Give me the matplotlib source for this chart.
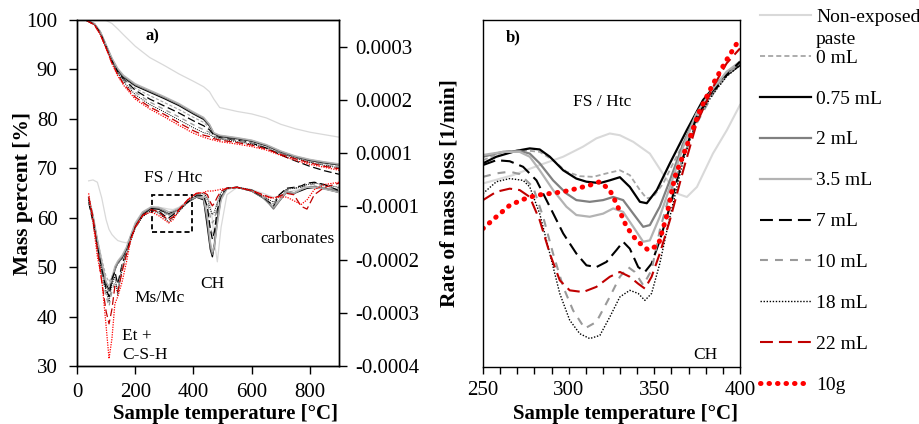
import matplotlib
matplotlib.use("Agg")
import matplotlib.pyplot as plt
from matplotlib.patches import Rectangle
from matplotlib.ticker import MultipleLocator

plt.rcParams["font.family"] = ["Liberation Serif", "DejaVu Serif"]

# ---------------- data ----------------
series = ["Non-exposed", "0 mL", "0.75 mL", "2 mL", "3.5 mL",
          "7 mL", "10 mL", "18 mL", "22 mL", "10g"]

# panel a) TGA, mass percent [%]
tga_temp = [30, 60, 80, 100, 120, 140, 160, 200, 250, 300, 350, 400, 435, 455,
            470, 490, 550, 600, 650, 700, 750, 800, 850, 900]
tga_nonexp = [100, 100, 100, 99.9, 99.3, 98.2, 97.0, 94.7, 92.4, 90.8, 89.1, 87.6,
              86.5, 85.5, 84.0, 82.3, 81.5, 81.0, 80.2, 78.9, 78.0, 77.3, 76.8, 76.3]
tga_0 = [100, 99.2, 97.5, 94.7, 91.8, 89.7, 88.2, 86.2, 84.7, 83.3, 81.9, 80.3,
         79.3, 78.2, 76.9, 76.4, 75.9, 75.4, 74.5, 73.2, 72.2, 71.4, 70.9, 70.4]
tga_075 = [100, 99.2, 97.5, 94.8, 92.0, 89.8, 88.4, 86.7, 85.4, 84.1, 82.7, 81.0,
           79.9, 78.6, 77.0, 76.5, 76.0, 75.5, 74.6, 73.3, 72.3, 71.6, 71.1, 70.7]
tga_2 = [100, 99.2, 97.6, 94.9, 92.2, 90.0, 88.6, 86.9, 85.6, 84.3, 82.9, 81.2,
         80.1, 78.8, 77.1, 76.6, 76.1, 75.6, 74.7, 73.4, 72.4, 71.7, 71.2, 70.8]
tga_35 = [100, 99.3, 97.7, 95.0, 92.3, 90.2, 88.8, 87.1, 85.8, 84.5, 83.1, 81.4,
          80.3, 78.9, 77.2, 76.7, 76.2, 75.7, 74.8, 73.5, 72.5, 71.8, 71.3, 70.9]
tga_7 = [100, 99.1, 97.4, 94.6, 91.7, 89.5, 88.0, 85.8, 84.0, 82.6, 81.2, 79.6,
         78.6, 77.8, 76.7, 76.2, 75.7, 75.1, 74.1, 72.7, 71.5, 70.4, 69.5, 68.8]
tga_10 = [100, 99.1, 97.3, 94.5, 91.6, 89.4, 87.8, 85.4, 83.4, 81.9, 80.4, 78.8,
          77.8, 77.3, 76.5, 76.1, 75.6, 75.1, 74.3, 73.1, 72.1, 71.3, 70.7, 70.2]
tga_18 = [100, 99.1, 97.2, 94.4, 91.5, 89.2, 87.5, 84.9, 82.9, 81.4, 79.8, 78.2,
          77.2, 76.9, 76.3, 75.9, 75.4, 74.9, 74.1, 73.0, 72.0, 71.2, 70.6, 70.1]
tga_22 = [100, 99.0, 97.1, 94.3, 91.3, 88.9, 87.1, 84.4, 82.4, 80.9, 79.2, 77.6,
          76.7, 76.4, 76.0, 75.7, 75.2, 74.7, 73.9, 72.8, 71.9, 71.1, 70.4, 69.9]
tga_10g = [100, 99.0, 97.0, 94.2, 91.2, 88.7, 86.8, 84.0, 82.0, 80.4, 78.7, 77.1,
           76.3, 75.9, 75.7, 75.4, 74.9, 74.4, 73.7, 72.6, 71.6, 70.8, 70.2, 69.6]

# panel a) DTG, rate of mass loss [1e-5 1/min] (secondary axis)
dtg_temp = [40, 55, 70, 85, 100, 110, 120, 130, 140, 155, 170, 185, 200, 225, 255,
            280, 300, 315, 330, 350, 380, 410, 435, 448, 458, 465, 472, 482, 495,
            515, 550, 600, 640, 660, 675, 695, 720, 745, 770, 790, 815, 850, 900]
dtg_nonexp = [0.0, 0.2, -0.3, -3.7, -8.4, -10.5, -11.6, -12.3, -12.9, -13.2, -13.4,
              -12.3, -9.4, -7.0, -5.9, -5.7, -5.9, -6.1, -6.2, -5.7, -4.4, -3.5, -3.0,
              -3.3, -5.1, -8.4, -13.2, -17.5, -10.0, -3.0, -1.4, -1.9, -2.7, -3.2, -3.5,
              -3.3, -2.5, -2.1, -1.8, -1.6, -1.6, -1.8, -2.1]
dtg_0 = [-4.1, -8.0, -12.6, -16.9, -20.7, -21.8, -20.7, -18.8, -18.0, -16.9, -14.8,
         -12.1, -9.8, -7.3, -6.0, -6.2, -7.0, -7.5, -7.0, -6.2, -4.6, -3.3, -3.5, -6.2,
         -10.0, -11.6, -10.5, -6.7, -3.5, -1.7, -1.4, -2.1, -3.5, -4.6, -5.5, -4.1,
         -2.1, -2.5, -1.9, -1.4, -1.1, -1.4, -1.9]
dtg_075 = [-3.7, -7.8, -13.2, -18.0, -22.3, -23.6, -21.8, -19.1, -17.7, -16.6, -14.8,
           -12.1, -9.6, -7.3, -5.9, -6.1, -6.7, -7.1, -6.7, -6.1, -4.6, -3.5, -4.1,
           -10.0, -14.8, -16.4, -13.7, -8.4, -3.5, -1.6, -1.4, -2.2, -3.7, -4.8, -5.9,
           -4.3, -2.2, -2.7, -2.1, -1.6, -1.4, -1.7, -2.5]
dtg_2 = [-4.1, -8.4, -13.7, -18.5, -22.8, -23.9, -22.0, -19.3, -17.7, -16.4, -14.5,
         -11.8, -9.4, -7.0, -5.7, -5.9, -6.5, -7.3, -6.9, -6.1, -4.6, -3.5, -3.9, -8.9,
         -14.3, -15.9, -14.3, -8.9, -3.7, -1.6, -1.4, -2.2, -3.7, -5.0, -6.1, -4.4,
         -2.5, -2.8, -1.9, -1.4, -1.2, -1.6, -2.2]
dtg_35 = [-3.5, -7.3, -12.6, -17.5, -21.8, -22.8, -20.9, -18.5, -17.3, -16.1, -14.3,
          -11.6, -9.1, -6.7, -5.6, -5.7, -6.2, -6.7, -6.5, -5.9, -4.4, -3.3, -3.7, -7.8,
          -13.2, -15.3, -14.0, -9.4, -4.1, -1.8, -1.4, -2.1, -3.5, -4.7, -5.7, -4.2,
          -2.2, -2.6, -1.8, -1.4, -1.4, -1.8, -2.5]
dtg_7 = [-4.6, -8.9, -14.3, -19.1, -23.4, -25.0, -21.2, -19.6, -22.3, -18.0, -15.3,
         -12.3, -10.0, -7.5, -6.2, -6.5, -7.5, -8.0, -7.3, -6.3, -4.6, -3.2, -3.2, -5.7,
         -10.5, -12.6, -11.0, -6.2, -3.0, -1.6, -1.4, -2.1, -3.5, -4.6, -5.4, -3.0,
         -1.6, -1.4, -1.1, -0.5, -0.3, -0.8, -2.1]
dtg_10 = [-4.4, -8.9, -14.8, -20.2, -25.0, -27.1, -23.9, -21.8, -23.4, -18.5, -15.5,
          -12.6, -10.2, -7.6, -6.2, -6.7, -7.8, -8.6, -7.8, -6.5, -4.6, -3.0, -2.9,
          -4.6, -7.8, -9.1, -8.4, -5.1, -2.7, -1.6, -1.4, -2.0, -3.3, -4.4, -5.0, -3.5,
          -1.9, -1.6, -1.4, -1.0, -0.7, -1.1, -1.6]
dtg_18 = [-4.1, -8.4, -14.3, -19.6, -23.9, -26.1, -22.3, -20.7, -24.7, -19.1, -15.9,
          -12.9, -10.2, -7.8, -6.4, -7.0, -8.0, -8.9, -8.0, -6.7, -4.6, -2.9, -2.7,
          -3.7, -6.2, -7.3, -6.7, -4.6, -2.5, -1.6, -1.4, -1.9, -3.2, -4.1, -4.6, -3.0,
          -1.8, -1.6, -1.4, -0.8, -0.5, -0.8, -1.4]
dtg_22 = [-3.5, -7.8, -14.8, -21.8, -28.2, -30.9, -27.7, -22.8, -23.9, -19.6, -15.9,
          -12.6, -10.0, -7.5, -6.2, -6.7, -7.8, -8.4, -7.8, -6.2, -4.1, -2.7, -2.5,
          -3.0, -4.6, -5.4, -4.8, -3.5, -2.2, -1.6, -1.4, -2.1, -3.0, -3.5, -3.7, -3.3,
          -2.7, -3.0, -5.5, -6.1, -3.0, -1.4, -0.5]
dtg_10g = [-2.7, -8.9, -16.4, -21.2, -31.4, -38.4, -34.1, -26.6, -25.0, -21.8, -17.5,
           -12.6, -10.0, -7.5, -6.7, -7.5, -8.4, -9.1, -8.4, -6.4, -4.1, -2.7, -2.5,
           -2.2, -2.2, -2.2, -2.1, -2.0, -1.8, -1.6, -1.4, -2.1, -3.2, -3.7, -3.7, -3.5,
           -3.5, -4.3, -5.1, -4.1, -1.9, -0.8, -0.3]

# secondary axis ticks (labels as printed on the original axis)
dtg_ticks = [-40, -28.5, -17, -5.5, 6, 17.5, 29]
dtg_ticklabels = ["-0.0004", "-0.0003", "-0.0002", "-0.0001", "0.0001", "0.0002", "0.0003"]

# panel b) zoomed DTG, 250-400 °C (relative scale, no tick labels)
b_nonexp_t = [250, 267.5, 283.1, 296.8, 308.4, 316.2, 324.0, 329.9, 337.7, 347.4,
              356.2, 363.2, 369.0, 374.9, 384.2, 392.4, 400]
b_nonexp = [52.9, 55.3, 58.2, 60.6, 63.5, 65.9, 67.3, 66.8, 64.9, 61.5, 54.8, 50.0,
            49.0, 51.9, 61.5, 68.3, 75.5]
b_0_t = [250, 261.7, 273.4, 283.1, 290.9, 298.7, 306.5, 314.3, 322.1, 329.9, 335.7,
         341.6, 345.5, 349.3, 355.2, 361.0, 368.8, 376.6, 384.4, 392.2, 400]
b_0 = [59.6, 62.0, 62.5, 62.0, 59.6, 56.3, 55.0, 54.8, 55.8, 56.7, 55.3, 51.0, 48.6,
       49.0, 52.9, 58.7, 66.3, 73.6, 79.3, 84.1, 88.0]
b_075_t = [250, 257.8, 269.5, 277.3, 283.1, 289.0, 296.8, 304.5, 310.4, 318.2, 324.0,
           329.9, 335.7, 341.6, 345.6, 351.5, 359.1, 369.0, 378.4, 388.3, 400]
b_075 = [58.7, 60.6, 62.3, 63.0, 62.7, 60.6, 56.7, 54.3, 53.4, 53.0, 53.8, 54.7, 51.9,
         47.6, 47.2, 51.0, 58.7, 68.3, 76.9, 82.7, 87.0]
b_2_t = [250, 261.7, 271.4, 277.3, 283.1, 290.9, 298.7, 304.5, 312.3, 320.1, 326.0,
         331.8, 337.7, 343.5, 347.4, 353.2, 359.1, 366.9, 374.7, 384.4, 392.2, 400]
b_2 = [60.6, 62.0, 62.3, 61.5, 58.7, 53.8, 50.0, 48.1, 47.6, 48.1, 49.0, 48.1, 44.2,
       40.4, 40.9, 46.2, 53.8, 64.4, 73.1, 79.8, 84.6, 87.5]
b_35_t = b_2_t
b_35 = [61.1, 62.0, 62.0, 60.6, 56.7, 51.0, 46.2, 43.8, 43.3, 44.2, 45.7, 44.7, 40.4,
        36.1, 36.5, 43.3, 51.9, 63.5, 73.1, 80.3, 85.1, 88.0]
b_7_t = [250, 257.8, 265.6, 273.4, 281.2, 289.0, 296.8, 304.5, 310.4, 316.2, 322.1,
         327.9, 331.8, 335.7, 340.6, 344.5, 348.4, 353.2, 359.1, 366.9, 374.7, 384.4,
         392.2, 400]
b_7 = [58.2, 59.6, 59.3, 57.7, 53.8, 46.2, 38.5, 32.7, 29.3, 28.8, 30.3, 33.7, 36.1,
       34.1, 28.8, 27.4, 29.8, 36.5, 46.2, 60.6, 72.1, 79.3, 84.1, 88.0]
b_10_t = [250, 257.8, 265.6, 271.4, 279.2, 285.1, 290.9, 296.8, 302.6, 309.4, 316.2,
          324.0, 329.9, 334.7, 338.6, 343.5, 348.4, 353.2, 359.1, 366.9, 374.7, 384.4,
          392.2, 400]
b_10 = [54.8, 55.8, 56.3, 55.6, 51.9, 43.3, 32.7, 23.1, 16.3, 11.1, 13.0, 20.2, 26.0,
        28.8, 27.4, 23.6, 27.9, 39.4, 50.0, 60.6, 70.2, 78.8, 84.1, 87.5]
b_18_t = [250, 257.8, 265.6, 273.4, 277.3, 283.1, 289.0, 294.8, 300.6, 306.5, 312.3,
          318.2, 324.0, 329.9, 335.7, 340.6, 344.5, 348.4, 353.2, 359.1, 366.9, 374.7,
          384.4, 392.2, 400]
b_18 = [50.0, 53.4, 54.3, 53.8, 51.9, 44.2, 32.7, 21.2, 13.5, 9.6, 8.2, 9.1, 14.4,
        20.2, 22.1, 21.2, 19.2, 21.2, 29.8, 43.3, 59.6, 71.2, 78.8, 83.7, 87.0]
b_22_t = [250, 257.8, 265.6, 271.4, 277.3, 283.1, 289.0, 294.8, 300.6, 308.4, 316.2,
          324.0, 329.9, 335.7, 340.6, 344.5, 348.4, 353.2, 359.1, 366.9, 374.7, 384.4,
          392.2, 400]
b_22 = [48.1, 50.5, 51.4, 51.0, 49.0, 42.3, 32.7, 25.0, 22.1, 21.6, 23.1, 26.0, 27.4,
        26.0, 24.0, 22.6, 26.0, 32.7, 42.3, 56.7, 70.2, 80.8, 87.5, 91.8]
b_10g_t = [250, 257.8, 265.6, 273.4, 281.2, 289.0, 296.8, 304.5, 312.3, 318.2, 324.0,
           327.9, 333.8, 339.6, 346.4, 352.3, 357.1, 362.0, 368.8, 376.6, 384.4, 392.2,
           400]
b_10g = [39.9, 43.3, 46.6, 48.3, 49.5, 50.0, 50.5, 51.4, 52.4, 53.4, 51.0, 47.1, 40.4,
         36.5, 33.7, 35.1, 43.3, 54.8, 63.5, 74.0, 81.7, 88.5, 94.7]

tga = [tga_nonexp, tga_0, tga_075, tga_2, tga_35, tga_7, tga_10, tga_18, tga_22, tga_10g]
dtg = [dtg_nonexp, dtg_0, dtg_075, dtg_2, dtg_35, dtg_7, dtg_10, dtg_18, dtg_22, dtg_10g]
zoom = [(b_nonexp_t, b_nonexp), (b_0_t, b_0), (b_075_t, b_075), (b_2_t, b_2),
        (b_35_t, b_35), (b_7_t, b_7), (b_10_t, b_10), (b_18_t, b_18),
        (b_22_t, b_22), (b_10g_t, b_10g)]

# line styles for panel b (and legend)
styles = [
    dict(color="#d9d9d9", ls="-", lw=1.5),
    dict(color="#a6a6a6", ls=(0, (2.8, 1.7)), lw=1.3),
    dict(color="black", ls="-", lw=1.6),
    dict(color="#808080", ls="-", lw=1.6),
    dict(color="#b3b3b3", ls="-", lw=1.6),
    dict(color="black", ls=(0, (6.2, 2.9)), lw=1.5),
    dict(color="#9a9a9a", ls=(0, (3.8, 3.4)), lw=1.5),
    dict(color="black", ls=(0, (1, 1.2)), lw=1.0),
    dict(color="#c00000", ls=(0, (6.2, 2.9)), lw=1.5),
    dict(color="#ff0000", ls=(0, (0.1, 1.6)), lw=3.6, dash_capstyle="round"),
]
# thinner versions used in the compressed panel a
thin_lw = [0.9, 0.8, 1.0, 1.0, 1.0, 0.9, 0.9, 0.7, 0.9, 0.9]

# ---------------- figure ----------------
fig = plt.figure(figsize=(9.2, 4.24), dpi=100)
ax1 = fig.add_axes([0.0837, 0.1368, 0.2848, 0.8160])
ax1r = ax1.twinx()
ax2 = fig.add_axes([0.525, 0.1344, 0.2793, 0.8184])

for i, st in enumerate(styles):
    thin = dict(st)
    thin["lw"] = thin_lw[i]
    if i == 9:
        thin["ls"] = (0, (1, 1))
        thin["dash_capstyle"] = "butt"
    ax1.plot(tga_temp, tga[i], **thin)
    ax1r.plot(dtg_temp, dtg[i], **thin)
    ax2.plot(zoom[i][0], zoom[i][1], label=series[i], **st)

# panel a axes
ax1.set_xlim(0, 900)
ax1.set_ylim(30, 100)
ax1.set_xticks([0, 200, 400, 600, 800])
ax1.set_yticks(range(30, 101, 10))
ax1.tick_params(axis="y", direction="out", length=6, width=1, labelsize=15, pad=8)
ax1.tick_params(axis="x", direction="out", length=6, width=1, labelsize=15, pad=6)
ax1.set_ylabel("Mass percent [%]", fontsize=15.5, fontweight="bold")
ax1.yaxis.set_label_coords(-0.168, 0.5)
ax1.set_xlabel("Sample temperature [°C]", fontsize=15, fontweight="bold")
ax1.xaxis.set_label_coords(0.565, -0.11)

ax1r.set_ylim(-40, 34.75)
ax1r.set_yticks(dtg_ticks)
ax1r.set_yticklabels(dtg_ticklabels)
ax1r.tick_params(axis="y", direction="out", length=6, width=1, labelsize=15, pad=6)

ax1.add_patch(Rectangle((258, 57.2), 137, 7.4, fill=False, ec="black",
                        ls=(0, (2.8, 1.7)), lw=1.3, zorder=5))
ax1.text(258, 96.6, "a)", fontsize=12, fontweight="bold", ha="center", va="center")
ax1.text(331, 68.1, "FS / Htc", fontsize=12.5, ha="center", va="center")
ax1.text(282, 43.7, "Ms/Mc", fontsize=12.5, ha="center", va="center")
ax1.text(154, 36.1, "Et +", fontsize=12.5, ha="left", va="center")
ax1.text(154, 32.2, "C-S-H", fontsize=12.5, ha="left", va="center")
ax1.text(465, 46.6, "CH", fontsize=12.5, ha="center", va="center")
ax1.text(757, 55.7, "carbonates", fontsize=12.5, ha="center", va="center")

# panel b axes
ax2.set_xlim(250, 400)
ax2.set_ylim(0, 100)
ax2.xaxis.set_major_locator(MultipleLocator(50))
ax2.xaxis.set_minor_locator(MultipleLocator(10))
ax2.tick_params(axis="x", which="both", direction="out", length=5, width=1,
                labelsize=15, pad=5)
ax2.set_yticks([])
ax2.set_ylabel("Rate of mass loss [1/min]", fontsize=15.5, fontweight="bold")
ax2.yaxis.set_label_coords(-0.093, 0.5)
ax2.set_xlabel("Sample temperature [°C]", fontsize=15, fontweight="bold")
ax2.xaxis.set_label_coords(0.553, -0.108)
ax2.text(267.5, 95, "b)", fontsize=12, fontweight="bold", ha="center", va="center")
ax2.text(319.8, 76.5, "FS / Htc", fontsize=12.5, ha="center", va="center")
ax2.text(379.6, 3.5, "CH", fontsize=12.5, ha="center", va="center")

for ax in (ax1, ax1r, ax2):
    for sp in ax.spines.values():
        sp.set_linewidth(1.0)

leg = fig.legend(handles=ax2.get_lines(), labels=series, loc="upper left",
                 bbox_to_anchor=(760 / 920, 1 - 8 / 424), frameon=False, fontsize=14,
                 handlelength=2.6, handletextpad=0.3, labelspacing=1.2,
                 borderpad=0, borderaxespad=0)
fig.text(816 / 920, 1 - 40 / 424, "paste", fontsize=14, ha="left", va="center")

fig.savefig("out.png", dpi=100)
